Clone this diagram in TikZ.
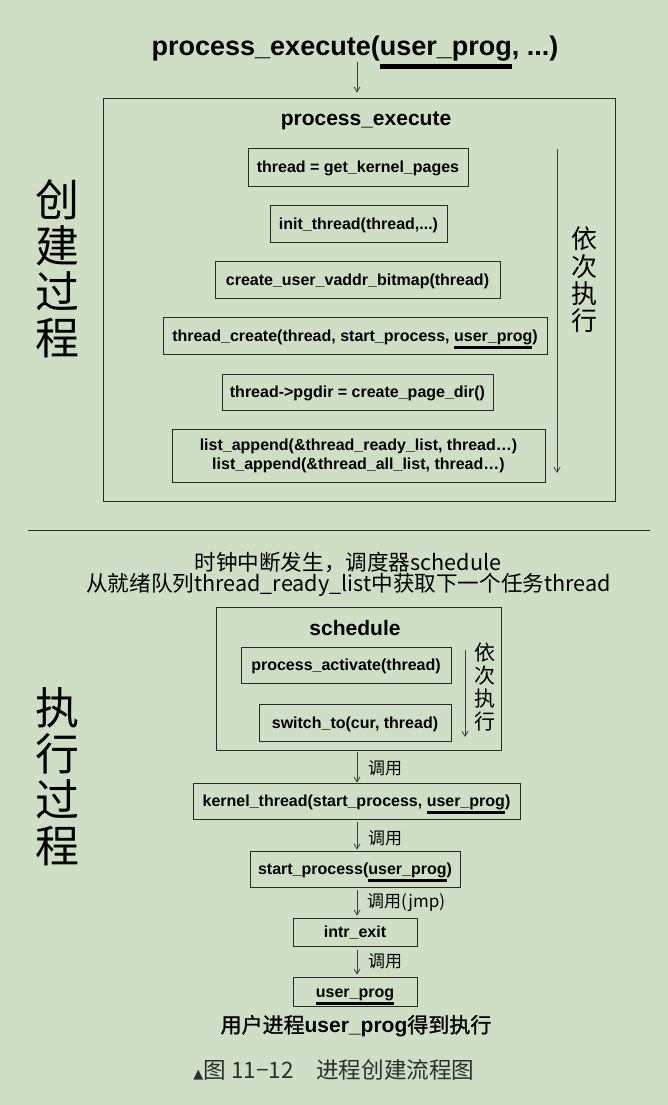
\documentclass[tikz,border=0pt]{standalone}
\usepackage{fontspec}
\setmainfont{Liberation Sans}
\newfontfamily\cjk{Noto Sans CJK SC}
\newfontfamily\cjkm[FakeBold=1.2]{Noto Sans CJK SC}
\newfontfamily\dejavu{DejaVu Sans}
\usetikzlibrary{arrows.meta}
\definecolor{bg}{RGB}{207,223,197}
\definecolor{ln}{RGB}{40,40,40}
\definecolor{ar}{RGB}{60,60,60}
\definecolor{cap}{RGB}{45,45,50}
\newsavebox\ulbox
\newcommand\ulx[1]{\sbox\ulbox{#1}\rlap{\rule[-0.47em]{\wd\ulbox}{0.16em}}\usebox\ulbox}
\begin{document}
\begin{tikzpicture}[x=1pt,y=-1pt,
 box/.style={draw=ln, line width=0.8pt, inner sep=0pt, text height=11pt, text depth=0pt,
   font=\fontsize{16}{19}\selectfont\bfseries},
 frame/.style={draw=ln, line width=0.8pt, inner sep=0pt},
 arr/.style={draw=ar, line width=0.8pt, -{Straight Barb[length=5pt,width=6pt]}},
 lab/.style={font=\cjk\fontsize{17}{17}\selectfont, anchor=west, inner sep=0pt},
 vch/.style={font=\cjk\fontsize{26}{27.3}\selectfont, align=center, inner sep=0pt},
 vsm/.style={font=\cjk\fontsize{21}{23}\selectfont, align=center, inner sep=0pt},
 big/.style={font=\cjk\fontsize{44}{46}\selectfont, align=center, inner sep=0pt},
 head/.style={font=\fontsize{21}{21}\selectfont\bfseries, inner sep=0pt},
]
\fill[bg] (0,0) rectangle (668,1105);
\useasboundingbox (0,0) rectangle (668,1105);
\coordinate (ax) at (357,0);

% ---------- creation part ----------
\node[anchor=base, inner sep=0pt, font=\fontsize{27}{27}\selectfont\bfseries] (t) at (355,56)
  {process\_execute(\ulx{user\_prog}, ...)};
\node[frame, minimum width=512pt, minimum height=403pt] (outer) at (359,299.5) {};
\draw[arr, shorten >=5pt] (t.base -| ax) ++(0,6) -- (outer.north -| ax);
\node[head] (pe) at (366,121) {process\_execute};

\node[box, minimum width=220pt, minimum height=38pt] (b1) at (358,167) {thread = get\_kernel\_pages};
\node[box, minimum width=177pt, minimum height=37pt] (b2) at (358.5,223.5) {init\_thread(thread,...)};
\node[box, minimum width=285pt, minimum height=37pt] (b3) at (357.5,279.5) {create\_user\_vaddr\_bitmap(thread)};
\node[box, minimum width=384pt, minimum height=37pt] (b4) at (355,335.5) {thread\_create(thread, start\_process, \ulx{user\_prog})};
\node[box, minimum width=271pt, minimum height=36pt] (b5) at (357.5,392) {thread->pgdir = create\_page\_dir()};
\node[draw=ln, line width=0.8pt, inner sep=0pt, minimum width=373pt, minimum height=53pt, align=center,
  font=\fontsize{16}{19}\selectfont\bfseries] (b6) at (358.5,455.5)
  {list\_append(\&thread\_ready\_list, thread…)\\list\_append(\&thread\_all\_list, thread…)};

\coordinate (sq1) at (557,149);
\coordinate (sq2) at (557,473);
\draw[arr] (sq1) -- (sq2);
\node[vch] (yc1) at (584,280) {依\\次\\执\\行};
\node[big] (cj) at (57,268.5) {创\\建\\过\\程};

% ---------- separator ----------
\coordinate (s1) at (28,530);
\coordinate (s2) at (650,530);
\draw[ln, line width=0.8pt] (s1) -- (s2);

% ---------- execution part ----------
\node[font=\cjk\fontsize{21.6}{22}\selectfont, inner sep=0pt] (l1) at (348,563) {时钟中断发生，调度器schedule};
\node[font=\cjk\fontsize{21.6}{22}\selectfont, inner sep=0pt] (l2) at (348.5,585) {从就绪队列thread\_ready\_list中获取下一个任务thread};

\node[frame, minimum width=285pt, minimum height=143pt] (sch) at (358.5,678.5) {};
\node[head] (schl) at (355,628) {schedule};
\node[box, minimum width=210pt, minimum height=36pt] (pa) at (346,665) {process\_activate(thread)};
\node[box, minimum width=192pt, minimum height=37pt] (sw) at (355,722.5) {switch\_to(cur, thread)};
\coordinate (sa1) at (465,650);
\coordinate (sa2) at (465,737);
\draw[arr] (sa1) -- (sa2);
\node[vsm] (yc2) at (485,687) {依\\次\\执\\行};
\node[big] (zx) at (57,777) {执\\行\\过\\程};

\node[box, minimum width=327pt, minimum height=36pt] (k) at (356.5,801) {kernel\_thread(start\_process, \ulx{user\_prog})};
\node[box, minimum width=210pt, minimum height=36pt] (sp) at (355,869) {start\_process(\ulx{user\_prog})};
\node[box, minimum width=124pt, minimum height=28pt] (ie) at (355,932) {intr\_exit};
\node[box, minimum width=124pt, minimum height=29pt] (up) at (355,991.5) {\ulx{user\_prog}};

\draw[arr, shorten <=2pt] (sch.south -| ax) -- (k.north -| ax);
\draw[arr, shorten <=3pt, shorten >=1pt] (k.south -| ax) -- (sp.north -| ax);
\draw[arr, shorten <=3pt, shorten >=2pt] (sp.south -| ax) -- (ie.north -| ax);
\draw[arr, shorten <=4pt, shorten >=2pt] (ie.south -| ax) -- (up.north -| ax);
\node[lab] (c1) at (368,768) {调用};
\node[lab] (c2) at (368,838) {调用};
\node[lab] (c3) at (367,903) {调用(jmp)};
\node[lab] (c4) at (368,961) {调用};

\node[inner sep=0pt] (fin) at (356,1026)
  {{\cjkm\fontsize{21}{21}\selectfont 用户进程}{\bfseries\fontsize{21}{21}\selectfont user\_prog}{\cjkm\fontsize{21}{21}\selectfont 得到执行}};
\node[inner sep=0pt, text=cap] (capt) at (334,1070)
  {{\dejavu\fontsize{13}{13}\selectfont ▲}{\cjk\fontsize{22.6}{22}\selectfont 图 11−12　进程创建流程图}};
\end{tikzpicture}
\end{document}
